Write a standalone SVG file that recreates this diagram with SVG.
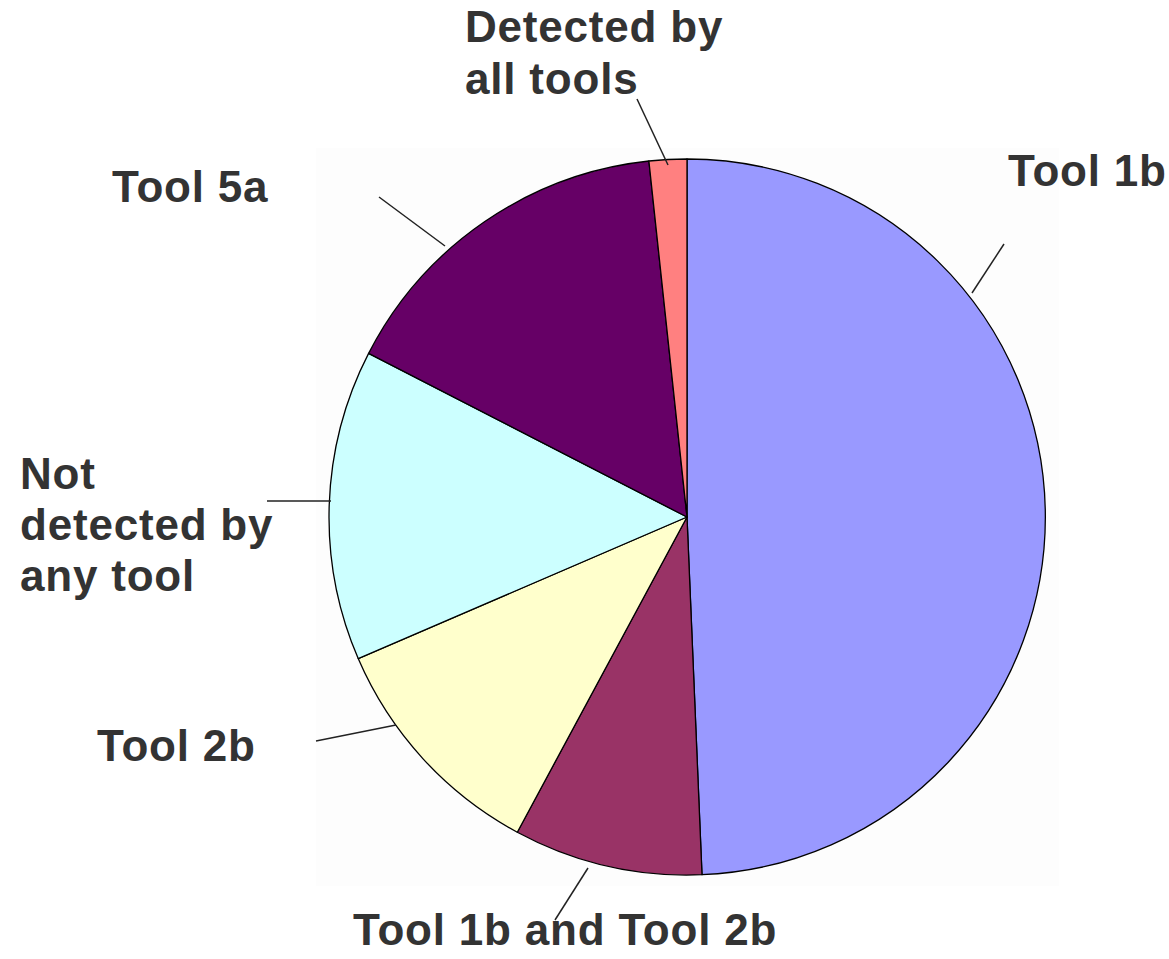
<svg xmlns="http://www.w3.org/2000/svg" width="1169" height="959" viewBox="0 0 1169 959">
<style>
.lbl{font-family:"Liberation Sans",Arial,sans-serif;font-weight:bold;font-size:44px;fill:#333333;letter-spacing:0.8px}
.slice{stroke:#000;stroke-width:1.3;stroke-linejoin:round}
.lead{stroke:#222;stroke-width:1.5;fill:none}
</style>
<rect width="1169" height="959" fill="#ffffff"/>
<rect x="316" y="148" width="743" height="738" fill="#fdfdfd"/>
<g id="pie">
<g id="slice-tool1b"><path class="slice" fill="#9999FF" d="M687,517 L687,159 A358,358 0 0,1 702.0,874.7 Z"/></g>
<g id="slice-tool1b2b"><path class="slice" fill="#993366" d="M687,517 L702.0,874.7 A358,358 0 0,1 517.3,832.2 Z"/></g>
<g id="slice-tool2b"><path class="slice" fill="#FFFFCC" d="M687,517 L517.3,832.2 A358,358 0 0,1 358.2,658.6 Z"/></g>
<g id="slice-none"><path class="slice" fill="#CCFFFF" d="M687,517 L358.2,658.6 A358,358 0 0,1 368.6,353.4 Z"/></g>
<g id="slice-tool5a"><path class="slice" fill="#660066" d="M687,517 L368.6,353.4 A358,358 0 0,1 648.9,161.0 Z"/></g>
<g id="slice-all"><path class="slice" fill="#FF8080" d="M687,517 L648.9,161.0 A358,358 0 0,1 687,159 Z"/></g>
</g>
<g id="connectors">
<line class="lead" x1="972" y1="293" x2="1004" y2="244"/>
<line class="lead" x1="668" y1="165" x2="637" y2="99"/>
<line class="lead" x1="445" y1="246" x2="379" y2="197"/>
<line class="lead" x1="331" y1="501" x2="267" y2="501"/>
<line class="lead" x1="396" y1="725" x2="316" y2="741"/>
<line class="lead" x1="588" y1="868" x2="555" y2="920"/>
</g>
<g id="label-all"><text class="lbl" x="465" y="42">Detected by</text><text class="lbl" x="465" y="94">all tools</text></g>
<g id="label-tool1b"><text class="lbl" x="1008" y="186">Tool 1b</text></g>
<g id="label-tool5a"><text class="lbl" x="112" y="202">Tool 5a</text></g>
<g id="label-none"><text class="lbl" x="20" y="489">Not</text><text class="lbl" x="20" y="540">detected by</text><text class="lbl" x="20" y="591">any tool</text></g>
<g id="label-tool2b"><text class="lbl" x="97" y="761">Tool 2b</text></g>
<g id="label-tool1b2b"><text class="lbl" x="353" y="945">Tool 1b and Tool 2b</text></g>
</svg>
